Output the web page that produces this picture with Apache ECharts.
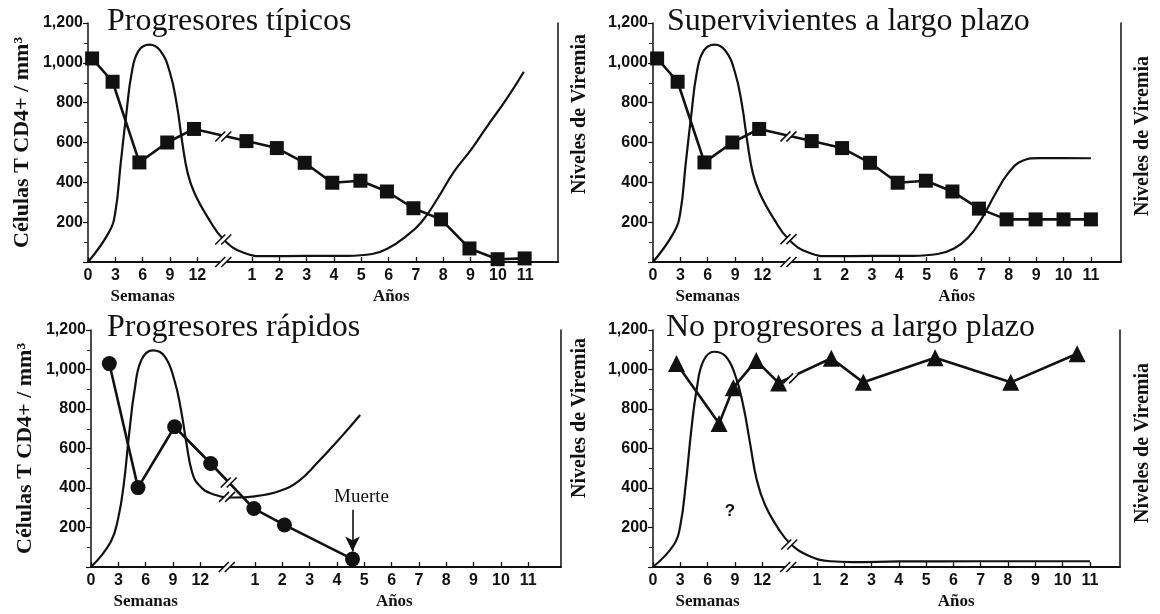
<!DOCTYPE html>
<html><head><meta charset="utf-8">
<script src="https://cdn.jsdelivr.net/npm/echarts@6/dist/echarts.min.js"></script>
<style>html,body{margin:0;padding:0;background:#fff}#c{width:1160px;height:614px}</style>
</head><body><div id="c"></div>
<script>
// ---------- data ----------
const panelTitles = ['Progresores típicos', 'Supervivientes a largo plazo', 'Progresores rápidos', 'No progresores a largo plazo'];
// axis position units: weeks 0..12 -> 0..4 (step 3 wk), break, years 1..11 -> 6..16
const xTickPos  = [0, 1, 2, 3, 4, 6, 7, 8, 9, 10, 11, 12, 13, 14, 15, 16];
const xTickText = ['0', '3', '6', '9', '12', '1', '2', '3', '4', '5', '6', '7', '8', '9', '10', '11'];
const yLeftName = 'Células T CD4+ / mm³';
const yRightName = 'Niveles de Viremia';
const weeksName = 'Semanas';
const yearsName = 'Años';
const deathLabel = 'Muerte';
const unknownLabel = '?';

const typicalCd4 = [[0.15,1022],[0.9,905],[1.88,500],[2.9,600],[3.88,668],[5.8,607],[6.91,572],[7.93,498],[8.94,398],[9.97,408],[10.94,354],[11.91,270],[12.92,214],[13.96,68],[14.99,14],[15.98,18]];
const typicalVir = [[0,0],[0.77,150],[1.0,250],[1.2,500],[1.4,740],[1.6,950],[1.85,1060],[2.25,1091],[2.65,1060],[3.0,950],[3.25,790],[3.45,600],[3.65,445],[3.9,345],[4.4,220],[4.96,113],[5.7,46],[6.5,29],[8.0,31],[9.5,31],[10.4,40],[11.0,70],[11.6,125],[12.2,200],[12.8,320],[13.4,455],[14.0,560],[14.6,680],[15.3,815],[15.95,955]];
const survivorCd4 = [[0.15,1022],[0.9,905],[1.88,500],[2.9,600],[3.88,668],[5.8,607],[6.91,572],[7.93,498],[8.94,398],[9.97,408],[10.94,354],[11.91,268],[12.92,214],[13.98,214],[15.0,214],[16.0,214]];
const survivorVir = [[0,0],[0.77,150],[1.0,250],[1.2,500],[1.4,740],[1.6,950],[1.85,1060],[2.25,1091],[2.65,1060],[3.0,950],[3.25,790],[3.45,600],[3.65,445],[3.9,345],[4.4,220],[4.96,113],[5.7,46],[6.5,29],[8.0,31],[9.5,31],[10.4,40],[11.0,68],[11.5,120],[12.0,215],[12.5,340],[13.0,450],[13.5,508],[14.1,522],[15.0,522],[16.0,521]];
const rapidCd4 = [[0.67,1030],[1.72,402],[3.06,710],[4.38,524],[5.96,296],[7.08,213],[9.57,40]];
const rapidVir = [[0,0],[0.72,127],[1.0,250],[1.2,420],[1.4,680],[1.6,900],[1.85,1050],[2.26,1097],[2.69,1068],[3.06,942],[3.3,790],[3.5,620],[3.7,480],[3.95,415],[4.4,372],[5.2,352],[6.0,358],[6.9,385],[7.6,435],[8.3,530],[9.1,650],[9.85,770]];
const nonProgCd4 = [[0.86,1030],[2.42,726],[2.94,908],[3.78,1045],[4.6,932],[6.53,1057],[7.7,935],[10.33,1059],[13.1,935],[15.53,1080]];
const nonProgVir = [[0,0],[0.77,114],[1.0,210],[1.2,420],[1.4,690],[1.6,900],[1.85,1045],[2.24,1090],[2.65,1068],[3.0,975],[3.3,820],[3.55,630],[3.8,440],[4.1,315],[4.6,192],[5.06,114],[5.74,55],[6.5,29],[7.3,25],[9.0,28],[12.0,29],[16.0,29]];
const breaksTypical  = [[4.95,0],[4.95,630],[4.95,113]];
const breaksSurvivor = [[4.95,0],[4.95,631],[4.95,115]];
const breaksRapid    = [[4.97,0],[5.04,428],[4.98,355]];
const breaksNonProg  = [[4.95,0],[5.06,955],[4.99,114]];
const deathArrow = [[9.57,290],[9.57,78]];
const deathTextAt = [9.9,355];
const unknownAt = [2.82,284];
const weeksLabelPos = 2.0;
const yearsLabelPos = 11.1;

// ---------- layout ----------
const grids = [
  {left: 88,  top: 23,  width: 470, height: 239},
  {left: 653, top: 23,  width: 468, height: 239},
  {left: 91,  top: 330, width: 470, height: 237},
  {left: 653, top: 330, width: 467, height: 237}
];
const xMax = [17.2, 17.1, 17.2, 17.1];
const INK = '#111';
const SANS = 'Liberation Sans';
const SERIF = 'Liberation Serif';

const xAxes = grids.map((g, i) => ({
  type: 'value', gridIndex: i, min: 0, max: xMax[i],
  axisLine: {show: true, lineStyle: {color: INK, width: 2}},
  axisTick: {show: true, inside: true, length: 5, customValues: xTickPos, lineStyle: {color: INK, width: 1.3}},
  axisLabel: {show: true, customValues: xTickPos, margin: 6, color: INK, fontFamily: SANS, fontWeight: 'bold', fontSize: 16,
    formatter: v => { const k = xTickPos.indexOf(Math.round(v * 100) / 100); return k < 0 ? '' : xTickText[k]; }},
  splitLine: {show: false}
}));

const yAxes = [];
grids.forEach((g, i) => {
  yAxes.push({
    type: 'value', gridIndex: i, min: 0, max: 1200, interval: 200, position: 'left',
    name: (i === 0 || i === 2) ? yLeftName : '', nameLocation: 'middle', nameGap: 55, nameRotate: 90,
    nameTextStyle: {fontFamily: SERIF, fontWeight: 'bold', fontSize: 22, color: INK},
    axisLine: {show: true, lineStyle: {color: INK, width: 1.5}},
    axisTick: {show: true, length: 5, lineStyle: {color: INK, width: 1.2}},
    minorTick: {show: true, splitNumber: 2, length: 4, lineStyle: {color: '#333', width: 1}},
    axisLabel: {margin: 5, color: INK, fontFamily: SANS, fontWeight: 'bold', fontSize: 16,
      formatter: v => v === 0 ? '' : v.toLocaleString('en-US')},
    splitLine: {show: false}
  });
  yAxes.push({
    type: 'value', gridIndex: i, min: 0, max: 1200, position: 'right',
    axisLine: {show: true, lineStyle: {color: INK, width: 1.5}},
    axisTick: {show: false}, axisLabel: {show: false}, splitLine: {show: false}
  });
});

function cd4Series(i, data, symbol, size) {
  return {
    type: 'line', xAxisIndex: i, yAxisIndex: i * 2, data: data, symbol: symbol, symbolSize: size,
    lineStyle: {color: INK, width: 2.6}, itemStyle: {color: INK, borderWidth: 0}, z: 4, silent: true
  };
}
function virSeries(i, data) {
  return {
    type: 'line', xAxisIndex: i, yAxisIndex: i * 2, data: data, showSymbol: false, symbol: 'none',
    smooth: 0.45, lineStyle: {color: INK, width: 2.2}, z: 3, silent: true
  };
}
function breakSeries(i, data) {
  return {
    type: 'custom', xAxisIndex: i, yAxisIndex: i * 2, data: data, clip: false, z: 10, silent: true,
    renderItem: (params, api) => {
      const p = api.coord([api.value(0), api.value(1)]);
      const a = 3, s = 5, h = 5;
      return {type: 'group', children: [
        {type: 'polygon', shape: {points: [[p[0]-a-s, p[1]+h], [p[0]+a-s, p[1]+h], [p[0]+a+s, p[1]-h], [p[0]-a+s, p[1]-h]]},
          style: {fill: '#fff'}},
        {type: 'line', shape: {x1: p[0]-a-s, y1: p[1]+h, x2: p[0]-a+s, y2: p[1]-h}, style: {stroke: INK, lineWidth: 1.6}},
        {type: 'line', shape: {x1: p[0]+a-s, y1: p[1]+h, x2: p[0]+a+s, y2: p[1]-h}, style: {stroke: INK, lineWidth: 1.6}}
      ]};
    }
  };
}

const rapid = cd4Series(2, rapidCd4, 'circle', 15);
rapid.markLine = {
  silent: true, symbol: ['none', 'arrow'], symbolSize: [11, 15],
  lineStyle: {color: INK, width: 1.6, type: 'solid'}, label: {show: false},
  data: [[{coord: deathArrow[0]}, {coord: deathArrow[1]}]]
};
rapid.markPoint = {
  silent: true, symbol: 'rect', symbolSize: 1, itemStyle: {color: 'rgba(0,0,0,0)'},
  label: {show: true, position: 'inside', formatter: deathLabel, color: INK, fontFamily: SERIF, fontSize: 19},
  data: [{coord: deathTextAt}]
};
const nonVir = virSeries(3, nonProgVir);
nonVir.markPoint = {
  silent: true, symbol: 'rect', symbolSize: 1, itemStyle: {color: 'rgba(0,0,0,0)'},
  label: {show: true, position: 'inside', formatter: unknownLabel, color: INK, fontFamily: SANS, fontWeight: 'bold', fontSize: 17},
  data: [{coord: unknownAt}]
};

const series = [
  virSeries(0, typicalVir), cd4Series(0, typicalCd4, 'rect', 14), breakSeries(0, breaksTypical),
  virSeries(1, survivorVir), cd4Series(1, survivorCd4, 'rect', 14), breakSeries(1, breaksSurvivor),
  virSeries(2, rapidVir), rapid, breakSeries(2, breaksRapid),
  nonVir, cd4Series(3, nonProgCd4, 'triangle', 17), breakSeries(3, breaksNonProg)
];

const titlePos = [{left: 107, top: 6}, {left: 667, top: 6}, {left: 107, top: 312}, {left: 666, top: 312}];
const title = panelTitles.map((t, i) => ({
  text: t, left: titlePos[i].left, top: titlePos[i].top, padding: 0,
  textStyle: {fontFamily: SERIF, fontWeight: 'normal', fontSize: 32, color: INK}
}));

const chart = echarts.init(document.getElementById('c'), null, {renderer: 'canvas'});
chart.setOption({
  animation: false, backgroundColor: '#fff',
  title: title, grid: grids, xAxis: xAxes, yAxis: yAxes, series: series
});

// axis captions below each x axis and right-hand viremia captions
const graphic = [];
grids.forEach((g, i) => {
  const yb = g.top + g.height + 35;
  [[weeksName, weeksLabelPos], [yearsName, yearsLabelPos]].forEach(([txt, pos]) => {
    const x = chart.convertToPixel({xAxisIndex: i}, pos);
    graphic.push({type: 'text', x: x, y: yb, style: {text: txt, align: 'center', verticalAlign: 'middle',
      fontFamily: SERIF, fontWeight: 'bold', fontSize: 17, fill: INK}});
  });
});
const rightNameAt = [[580, 114], [1143, 136], [580, 418], [1143, 443]];
rightNameAt.forEach(([x, y]) => {
  graphic.push({type: 'text', x: x, y: y, rotation: Math.PI / 2,
    style: {text: yRightName, align: 'center', verticalAlign: 'middle', fontFamily: SERIF, fontWeight: 'bold', fontSize: 20, fill: INK}});
});
chart.setOption({graphic: graphic});
</script>
</body></html>
